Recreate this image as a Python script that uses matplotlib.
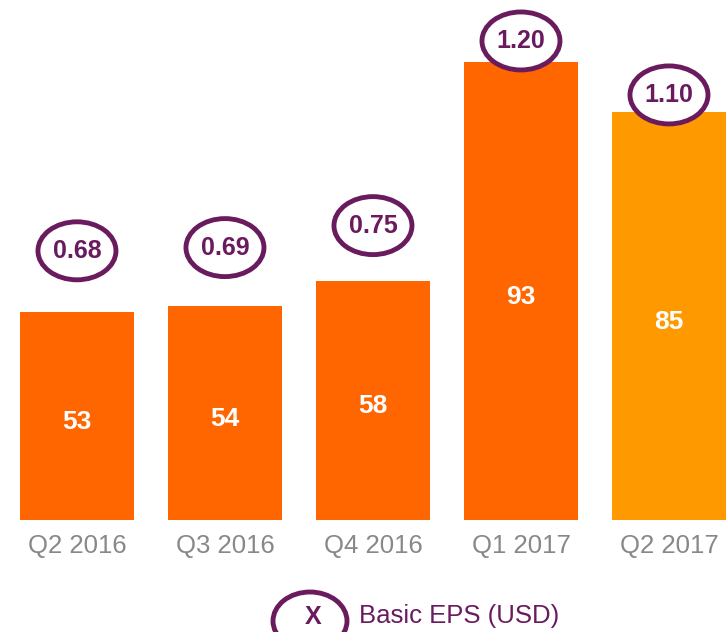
import matplotlib
matplotlib.use("Agg")
import matplotlib.pyplot as plt
from matplotlib.patches import Ellipse
from matplotlib.transforms import ScaledTranslation

plt.rcParams['font.family'] = ['Liberation Sans', 'DejaVu Sans']

quarters = ["Q2 2016", "Q3 2016", "Q4 2016", "Q1 2017", "Q2 2017"]
values = [53, 54, 58, 93, 85]
eps = ["0.68", "0.69", "0.75", "1.20", "1.10"]
colors = ["#FF6600", "#FF6600", "#FF6600", "#FF6600", "#FF9900"]
# label offsets above bar tops (points)
eps_offsets = [44, 41.8, 39.6, 14.8, 12.0]

PURPLE = "#6A1B5E"
W, H = 727, 632
fig = plt.figure(figsize=(W / 100, H / 100), dpi=100)
ax = fig.add_axes([0, 112 / H, 1, 520 / H])

x = list(range(len(values)))
ax.bar(x, values, width=0.764, color=colors, zorder=1)
ylo = 19.76
ax.set_xlim(-0.52, 4.392)
ax.set_ylim(ylo, ylo + 520 / 6.26)

for i, v in enumerate(values):
    ax.annotate(str(v), xy=(i, (ylo + v) / 2), xytext=(0, -4.3),
                textcoords="offset points", ha="center", va="center",
                color="white", fontsize=19, fontweight="bold")

for i, (v, e, off) in enumerate(zip(values, eps, eps_offsets)):
    tr = fig.dpi_scale_trans + ScaledTranslation(i, v, ax.transData)
    ell = Ellipse((0, off / 72), 78 / 100, 58 / 100, transform=tr,
                  facecolor="white", edgecolor=PURPLE, linewidth=3.5,
                  zorder=3, clip_on=False)
    ax.add_patch(ell)
    ax.annotate(e, xy=(i, v), xytext=(0, off), textcoords="offset points",
                ha="center", va="center", color=PURPLE, fontsize=18,
                fontweight="bold", zorder=4, annotation_clip=False)

ax.set_xticks(x)
ax.set_xticklabels(quarters, fontsize=18.5, color="#888888")
ax.tick_params(axis="x", length=0, pad=10)
ax.set_yticks([])
for s in ax.spines.values():
    s.set_visible(False)

# legend
leg_ell = Ellipse((310 / W, 1 - 621 / H), 74 / W, 58 / H, transform=fig.transFigure,
                  facecolor="white", edgecolor=PURPLE, linewidth=3.5)
fig.patches.append(leg_ell)
fig.text(313 / W, 1 - 617 / H, "X", ha="center", va="center", color=PURPLE,
         fontsize=18, fontweight="bold")
fig.text(359 / W, 1 - 616 / H, "Basic EPS (USD)", ha="left", va="center",
         color=PURPLE, fontsize=18.5)

fig.savefig("out.png", dpi=100)
